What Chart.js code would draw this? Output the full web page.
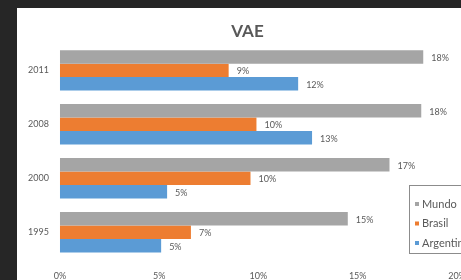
<!DOCTYPE html>
<html>
<head>
<meta charset="utf-8">
<script src="https://cdn.jsdelivr.net/npm/chart.js@4"></script>
<style>
  html, body { margin: 0; padding: 0; background: #262626; overflow: hidden; }
  #wrap { position: absolute; left: 17px; top: 8px; width: 460px; height: 272px; background: #fff; overflow: hidden; }
</style>
</head>
<body>
<div id="wrap"><canvas id="vae-chart" width="460" height="284"></canvas></div>
<script>
const years = ["2011", "2008", "2000", "1995"];
const mundo = [18.3, 18.2, 16.6, 14.5];
const brasil = [8.5, 9.9, 9.6, 6.6];
const argentina = [12.0, 12.7, 5.4, 5.1];
const xTicks = [0, 5, 10, 15, 20];

const textColor = "#595959";
const ctx = document.getElementById("vae-chart");

// value labels right of each bar, like excel data labels
const barLabels = {
  id: "barLabels",
  afterDatasetsDraw(chart) {
    const c = chart.ctx;
    c.save();
    c.font = "9px Lato";
    c.fillStyle = textColor;
    c.textBaseline = "middle";
    chart.data.datasets.forEach((ds, i) => {
      chart.getDatasetMeta(i).data.forEach((bar, j) => {
        c.fillText(Math.round(ds.data[j]) + "%", bar.x + 8, bar.y + 1);
      });
    });
    c.restore();
  }
};

// excel centres the title a bit right of the canvas middle
const shiftTitle = {
  id: "shiftTitle",
  afterLayout(chart) {
    if (chart.titleBlock) chart.titleBlock.left += 21;
  }
};

// legend box sitting inside the plot, cut by the right edge
const boxLegend = {
  id: "boxLegend",
  afterDraw(chart) {
    const c = chart.ctx;
    const x = 392, y = 177, w = 80, h = 68;
    c.save();
    c.fillStyle = "#fff";
    c.fillRect(x, y, w, h);
    c.strokeStyle = "#8c8c8c";
    c.lineWidth = 1;
    c.strokeRect(x + 0.5, y + 0.5, w, h);
    c.font = "11px Lato";
    c.textBaseline = "middle";
    chart.data.datasets.forEach((ds, i) => {
      const yy = y + 19 + i * 19.5;
      c.fillStyle = ds.backgroundColor;
      c.fillRect(x + 6, yy - 2, 4, 4);
      c.fillStyle = textColor;
      c.fillText(ds.label, x + 13, yy);
    });
    c.restore();
  }
};

new Chart(ctx, {
  type: "bar",
  data: {
    labels: years,
    datasets: [
      { label: "Mundo", data: mundo, backgroundColor: "#a5a5a5" },
      { label: "Brasil", data: brasil, backgroundColor: "#ed7d31" },
      { label: "Argentina", data: argentina, backgroundColor: "#5b9bd5" }
    ]
  },
  options: {
    indexAxis: "y",
    responsive: false,
    animation: false,
    devicePixelRatio: 1,
    layout: { padding: { left: 0, right: 20, top: 0, bottom: 0 } },
    datasets: { bar: { categoryPercentage: 0.75, barPercentage: 1 } },
    scales: {
      x: {
        min: 0,
        max: 20,
        afterBuildTicks: (axis) => { axis.ticks = xTicks.map((v) => ({ value: v })); },
        grid: { display: false, drawTicks: false },
        border: { display: false },
        ticks: {
          padding: 11,
          color: textColor,
          font: { family: "Lato", size: 9 },
          callback: (v) => v + "%"
        }
      },
      y: {
        grid: { display: false, drawTicks: false },
        border: { display: false },
        ticks: { padding: 11, color: textColor, font: { family: "Lato", size: 9 } }
      }
    },
    plugins: {
      legend: { display: false },
      tooltip: { enabled: false },
      title: {
        display: true,
        text: "VAE",
        color: textColor,
        font: { family: "Lato", size: 17, weight: "bold" },
        padding: { top: 13, bottom: 2 }
      }
    }
  },
  plugins: [barLabels, shiftTitle, boxLegend]
});
</script>
</body>
</html>
